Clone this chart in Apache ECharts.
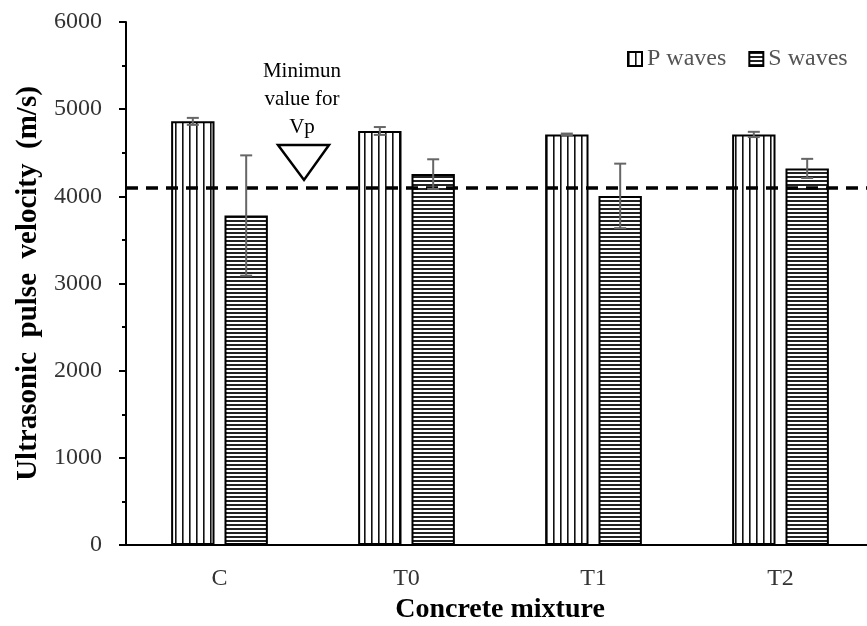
<!DOCTYPE html>
<html><head><meta charset="utf-8">
<script src="https://cdn.jsdelivr.net/npm/echarts@6/dist/echarts.min.js"></script>
<style>html,body{margin:0;padding:0;background:#fff}#c{width:867px;height:626px}</style>
</head><body><div id="c"></div>
<script>
const categories = ['C', 'T0', 'T1', 'T2'];
const pWaves = [4860, 4750, 4710, 4710];
const pErr = [40, 45, 10, 30];
const sWaves = [3780, 4255, 4005, 4320];
const sErr = [690, 170, 370, 110];
const minVp = 4100;

const FONT = 'Liberation Serif';

function stripes(vertical) {
  const c = document.createElement('canvas');
  if (vertical) {
    c.width = 7; c.height = 4;
    const g = c.getContext('2d');
    g.fillStyle = '#fff'; g.fillRect(0, 0, 7, 4);
    g.fillStyle = '#111'; g.fillRect(0, 0, 1.6, 4);
  } else {
    c.width = 4; c.height = 4;
    const g = c.getContext('2d');
    g.fillStyle = '#fff'; g.fillRect(0, 0, 4, 4);
    g.fillStyle = '#222'; g.fillRect(0, 0, 4, 2);
  }
  return { image: c, repeat: 'repeat' };
}

const BAR_W = 0.232, BAR_GAP = 0.23;
function errItem(sign) {
  return function (params, api) {
    const i = api.value(0), v = api.value(1), e = api.value(2);
    const band = api.size([1, 0])[0];
    const bw = band * BAR_W;
    const off = sign * bw * (1 + BAR_GAP) / 2;
    const top = api.coord([i, v + e]);
    const bot = api.coord([i, v - e]);
    const x = top[0] + off;
    const cap = 6;
    const st = { stroke: '#666', lineWidth: 2 };
    return {
      type: 'group',
      children: [
        { type: 'line', shape: { x1: x, y1: top[1], x2: x, y2: bot[1] }, style: st },
        { type: 'line', shape: { x1: x - cap, y1: top[1], x2: x + cap, y2: top[1] }, style: st },
        { type: 'line', shape: { x1: x - cap, y1: bot[1], x2: x + cap, y2: bot[1] }, style: st }
      ]
    };
  };
}

const chart = echarts.init(document.getElementById('c'), null, { renderer: 'canvas' });
chart.setOption({
  animation: false,
  backgroundColor: '#fff',
  grid: { left: 126, top: 22, width: 748, height: 523, containLabel: false, outerBoundsMode: 'none' },
  legend: {
    left: 622, top: 42, icon: 'rect', itemWidth: 14, itemHeight: 14, itemGap: 22,
    textStyle: { fontFamily: FONT, fontSize: 24, color: '#555' },
    data: ['P waves', 'S waves']
  },
  xAxis: {
    type: 'category', data: categories,
    name: 'Concrete mixture', nameLocation: 'middle', nameGap: 50,
    nameTextStyle: { fontFamily: FONT, fontSize: 28, fontWeight: 'bold', color: '#000' },
    axisLine: { lineStyle: { color: '#000', width: 2 } },
    axisTick: { show: false },
    axisLabel: { fontFamily: FONT, fontSize: 24, color: '#333', margin: 22 }
  },
  yAxis: {
    type: 'value', min: 0, max: 6000, interval: 1000,
    name: 'Ultrasonic  pulse  velocity  (m/s)', nameLocation: 'middle', nameGap: 81,
    nameTextStyle: { fontFamily: FONT, fontSize: 29, fontWeight: 'bold', color: '#000' },
    axisLine: { show: true, lineStyle: { color: '#000', width: 2 } },
    axisTick: { show: true, inside: false, length: 7, lineStyle: { color: '#000', width: 2 } },
    minorTick: { show: true, splitNumber: 2, length: 4, lineStyle: { color: '#000', width: 2 } },
    splitLine: { show: false },
    axisLabel: { fontFamily: FONT, fontSize: 24, color: '#333', margin: 24, formatter: v => String(v) }
  },
  series: [
    {
      name: 'P waves', type: 'bar', data: pWaves, barWidth: (BAR_W * 100) + '%', barGap: (BAR_GAP * 100) + '%',
      itemStyle: { color: stripes(true), borderColor: '#000', borderWidth: 2 }
    },
    {
      name: 'S waves', type: 'bar', data: sWaves, barWidth: (BAR_W * 100) + '%', barGap: (BAR_GAP * 100) + '%',
      itemStyle: { color: stripes(false), borderColor: '#000', borderWidth: 2 }
    },
    {
      type: 'custom', z: 5, renderItem: errItem(-1),
      data: pWaves.map((v, i) => [i, v, pErr[i]]), encode: { x: 0, y: 1 }
    },
    {
      type: 'custom', z: 5, renderItem: errItem(1),
      data: sWaves.map((v, i) => [i, v, sErr[i]]), encode: { x: 0, y: 1 },
      markLine: {
        silent: true, symbol: 'none', label: { show: false },
        lineStyle: { color: '#000', width: 3.5, type: [12, 8] },
        data: [{ yAxis: minVp }]
      }
    }
  ],
  graphic: [
    { type: 'polygon', z: 10, shape: { points: [[278, 145], [329, 145], [304, 180]] },
      style: { fill: 'none', stroke: '#000', lineWidth: 2.5 } },
    { type: 'text', z: 10, x: 302, y: 71, style: { text: 'Minimun', fontFamily: FONT, fontSize: 21, fill: '#000', align: 'center', verticalAlign: 'middle' } },
    { type: 'text', z: 10, x: 302, y: 99, style: { text: 'value for', fontFamily: FONT, fontSize: 21, fill: '#000', align: 'center', verticalAlign: 'middle' } },
    { type: 'text', z: 10, x: 302, y: 127, style: { text: 'Vp', fontFamily: FONT, fontSize: 21, fill: '#000', align: 'center', verticalAlign: 'middle' } }
  ]
});
</script></body></html>
